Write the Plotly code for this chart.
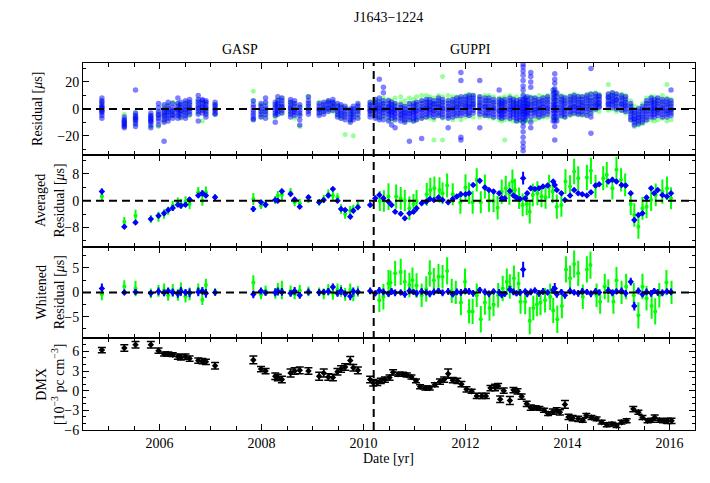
import plotly.graph_objects as go
from plotly.subplots import make_subplots

FONT = "Liberation Serif"
BLUE = "#0000ff"
GREEN = "#00ff00"

# ---------------- data ----------------
# GASP epochs (yr)
gasp_epochs = [2004.87, 2005.31, 2005.53, 2005.83, 2005.98, 2006.09, 2006.17, 2006.26, 2006.36, 2006.42,
               2006.51, 2006.59, 2006.76, 2006.84, 2006.91, 2007.09, 2007.84, 2007.99, 2008.08, 2008.27,
               2008.32, 2008.40, 2008.57, 2008.65, 2008.75, 2008.92, 2009.13, 2009.22, 2009.31, 2009.40,
               2009.49, 2009.56, 2009.64, 2009.74, 2009.80, 2009.89]

# GUPPI epochs (yr)
guppi_epochs = [2010.13, 2010.23, 2010.31, 2010.39, 2010.49, 2010.55, 2010.62, 2010.73, 2010.81, 2010.90,
                2010.98, 2011.04, 2011.14, 2011.23, 2011.30, 2011.38, 2011.47, 2011.55, 2011.66, 2011.75,
                2011.83, 2011.91, 2012.00, 2012.07, 2012.15, 2012.28, 2012.38, 2012.46, 2012.55, 2012.66,
                2012.71, 2012.77, 2012.87, 2012.94, 2013.00, 2013.07, 2013.13, 2013.17, 2013.21, 2013.28,
                2013.36, 2013.44, 2013.52, 2013.61, 2013.72, 2013.75, 2013.79, 2013.88, 2013.95, 2014.05,
                2014.13, 2014.21, 2014.29, 2014.38, 2014.46, 2014.55, 2014.62, 2014.80, 2014.88, 2014.96,
                2015.06, 2015.14, 2015.24, 2015.31, 2015.39, 2015.47, 2015.55, 2015.64, 2015.70, 2015.77,
                2015.86, 2015.95, 2016.03]

# raw residuals [us], one list per epoch
gasp_raw_blue = [
    [8, 6, 5, 3, 2, 1, 0, -1, -2, -3, -5, -7], [-6, -8, -9, -10, -11, -12, -13, -14],
    [14, -3, -5, -6, -7, -8, -9, -11, -13], [-3, -5, -6, -7, -8, -9, -10, -12, -14],
    [4, 1, -2, -4, -5, -7, -9, -12], [3, 0, -2, -3, -5, -6, -8, -10, -24],
    [5, 2, 0, -2, -3, -5, -7, -9], [4, 1, -1, -2, -4, -5, -7], [8, 4, 2, 0, -1, -3, -5, -7],
    [5, 3, 1, -1, -2, -4, -6], [6, 4, 2, 0, -1, -3, -5, -7], [7, 5, 3, 1, 0, -2, -4],
    [10, 7, 5, 3, 1, 0, -2, -4, -9], [7, 6, 4, 2, 1, -1, -3], [6, 5, 3, 1, 0, -2, -4, -6],
    [5, 3, 2, 0, -1, -3, -4], [6, 3, 1, -1, -3, -5, -7, -8], [4, 2, 0, -2, -4, -6],
    [8, 5, 2, 0, -2, -4, -7], [5, 3, 1, -1, -3, -5, -10], [9, 6, 4, 2, 0, -2, -4],
    [8, 6, 4, 2, 1, -1, -3], [7, 5, 3, 1, 0, -2, -4, -6], [6, 4, 2, 0, -2, -3, -5],
    [3, 1, -1, -3, -5, -8, -12], [9, 6, 4, 2, 0, -2, -4], [4, 2, 0, -1, -3, -5],
    [5, 3, 1, 0, -2, -4], [6, 5, 3, 1, 0, -2], [7, 5, 4, 2, 1, -1], [4, 2, 0, -2, -4, -6],
    [3, 1, -1, -3, -5, -7], [2, 0, -2, -4, -6, -8], [0, -2, -4, -6, -8, -10],
    [2, 0, -2, -4, -6, -8], [4, 2, 0, -2, -4, -7],
]
gasp_raw_green = [
    [5, 1, -2], [-4, -8, -12], [-3, -7, -11], [-5, -9, -13], [-2, -6, -13], [2, -4, -9],
    [3, -2, -6], [5, -1, -5], [4, 0, -4], [2, -2, -7], [5, 1, -3], [4, 0, -5],
    [6, 2, -3], [5, -1, -9], [4, 0, -3], [3, 0, -4], [13, 6, -8], [3, -2, -6],
    [4, -1, -5], [2, -4, -6], [7, 3, -2], [8, 2, -3], [5, 1, -3], [4, -1, -7],
    [2, -4, -13], [9, 3, -1], [5, 0, -3], [4, 0, -2], [6, 2, -1], [5, 2, -2],
    [3, -1, -5], [2, -3, -7], [1, -4, -19], [-1, -5, -9], [0, -4, -20], [3, -1, -6],
]
guppi_raw_blue = [
    [5, 3, 2, 0, -1, -2, -4, -6], [7, 5, 3, 1, 0, -1, -3, -5, -7], [22, 8, 5, 3, 1, 0, -2, -4, -6, -8],
    [16, 12, 6, 4, 2, 0, -1, -3, -5, -8], [6, 4, 2, 1, -1, -2, -4, -6, -9],
    [5, 3, 1, 0, -2, -3, -5, -7, -12], [4, 2, 0, -1, -3, -4, -6, -8, -14], [3, 1, -1, -2, -4, -5, -7, -9],
    [2, 0, -2, -3, -5, -6, -8, -10], [4, 1, -1, -3, -4, -6, -8, -24],
    [4, 2, 0, -2, -3, -5, -7, -9], [5, 3, 1, -1, -2, -4, -6, -8], [6, 4, 2, 0, -1, -3, -5, -7, -22],
    [7, 5, 3, 1, 0, -2, -4, -6], [7, 5, 3, 2, 0, -1, -3, -5],
    [6, 4, 3, 1, -1, -2, -4, -6], [8, 6, 4, 2, 1, -1, -3, -5], [7, 5, 3, 1, 0, -2, -4, -6],
    [6, 4, 2, 0, -1, -3, -5, -7, -14], [7, 5, 3, 1, 0, -2, -4, -6],
    [8, 6, 4, 2, 1, -1, -3, -5], [27, 21, 9, 7, 5, 3, 1, -1, -3, -5, -21, -23], [9, 7, 5, 3, 2, 0, -2, -4],
    [10, 8, 6, 4, 2, 1, -1, -3, -5], [10, 8, 6, 4, 3, 1, -1, -3],
    [21, 9, 7, 5, 3, 2, 0, -2, -4, -14], [8, 6, 4, 2, 1, -1, -3, -5], [8, 6, 4, 2, 0, -1, -3, -5],
    [7, 5, 3, 1, 0, -2, -4, -6], [14, 7, 5, 3, 1, -1, -2, -4, -6],
    [6, 4, 2, 0, -1, -3, -5, -7], [7, 5, 3, 1, -1, -2, -4, -6], [8, 6, 4, 2, 0, -1, -3, -5, -7],
    [7, 5, 3, 1, 0, -2, -4, -6], [6, 4, 2, 1, -1, -3, -5, -7, -9],
    [7, 5, 3, 1, 0, -2, -4, -6, -8],
    [33, 31, 28, 25, 21, 17, 14, 10, 7, 4, 2, 0, -2, -4, -7, -10, -13, -17, -21, -25, -28, -31],
    [8, 6, 4, 2, 0, -2, -4, -6, -8], [9, 6, 4, 2, 1, -1, -3, -5],
    [27, 24, 20, 16, 8, 5, 3, 1, -1, -3, -6, -10, -14],
    [8, 6, 4, 2, 0, -1, -3, -5], [7, 5, 3, 1, 0, -2, -4, -6], [8, 6, 4, 2, 1, -1, -3, -5],
    [9, 7, 5, 3, 1, 0, -2, -4], [14, 11, 8, 5, 3, 1, -1, -3, -6, -9],
    [26, 22, 19, 15, 12, 9, 6, 3, 0, -3, -6, -9, -13, -23], [12, 9, 6, 3, 1, -1, -3, -6, -9],
    [9, 7, 5, 3, 1, -1, -3, -5], [8, 6, 4, 2, 0, -2, -4, -6], [9, 7, 5, 3, 1, 0, -2, -4],
    [10, 8, 6, 4, 2, 1, -1, -3], [9, 7, 5, 3, 1, 0, -2, -4], [9, 7, 5, 3, 2, 0, -2, -4],
    [10, 8, 6, 4, 2, 0, -2, -5], [30, 11, 8, 6, 4, 2, 0, -3, -6, -18],
    [11, 9, 7, 5, 3, 2, 0], [10, 9, 7, 5, 4, 2, 1], [11, 9, 8, 6, 4, 3, 1],
    [12, 10, 8, 6, 5, 3, 1], [11, 9, 7, 6, 4, 2, 0],
    [10, 8, 6, 4, 3, 1, -1], [9, 7, 5, 3, 2, 0, -2], [4, 2, 0, -2, -4, -6, -8],
    [-1, -3, -5, -7, -8, -10, -12], [0, -2, -4, -6, -7, -9, -11],
    [2, 0, -2, -4, -6, -8, -10], [6, 4, 2, 0, -2, -4, -6, -8], [8, 6, 4, 2, 0, -2, -4, -6],
    [7, 5, 3, 1, 0, -2, -4, -6], [8, 6, 4, 2, 0, -1, -3, -5],
    [7, 5, 3, 1, 0, -2, -4, -6], [7, 5, 3, 1, -1, -2, -4, -6], [14, 6, 4, 2, 0, -1, -3, -5],
]
guppi_raw_green = [
    [5, 1, -3], [7, 3, -1, -6], [6, 2, -2, -7], [8, 4, 0, -6], [7, 2, -3, -8],
    [6, 3, -2, -9], [8, 4, 0, -7], [9, 5, 1, -6], [6, 2, -3, -9], [8, 4, -1, -8],
    [7, 3, -2, -9], [9, 5, 0, -8], [10, 6, 1, -7], [10, 6, 2, -6], [9, 5, 1, -7],
    [8, 4, 0, -8, -23], [10, 6, 3, -5], [24, 9, 5, 0, -7, -23], [10, 6, 2, -6], [9, 5, 0, -8],
    [9, 5, 1, -6], [8, 4, -1, -8], [10, 6, 2, -6], [11, 7, 3, -5], [10, 6, 2, -6],
    [9, 5, 0, -6], [10, 6, 2, -5], [10, 6, 1, -6], [9, 5, 0, -7], [8, 4, -1, -8],
    [8, 4, -2, -9], [9, 5, 0, -8, -23], [10, 6, 1, -8], [8, 4, -1, -9], [9, 4, -2, -9],
    [7, 3, -3, -9], [11, 6, -4, -10], [8, 4, -2, -9], [7, 3, -3, -9], [9, 5, -1, -8],
    [8, 4, -2, -8], [10, 6, 0, -7], [9, 5, -1, -6], [10, 6, 0, -6], [12, 7, 1, -6],
    [14, 8, 2, -8], [11, 6, 0, -7], [10, 6, 0, -6], [9, 5, -1, -6], [10, 6, 1, -5],
    [11, 7, 2, -4], [10, 6, 1, -4], [9, 5, 0, -5], [11, 7, 2, -4], [11, 7, 3, -2],
    [12, 8, 4, -1], [11, 7, 3, -2], [18, 11, 8, 4, -1], [12, 9, 5, 0], [11, 7, 3, -2],
    [11, 8, 4, -1], [10, 6, 2, -3], [6, 2, -2, -8], [2, -3, -8, -13], [1, -4, -9, -12],
    [4, -1, -6, -11], [8, 4, -2, -9], [9, 5, -1, -8], [9, 5, 0, -9], [8, 4, -2, -8],
    [10, 6, 0, -7], [18, 8, 3, -3, -9], [7, 3, -2, -8],
]

# averaged residuals [us]
gasp_avg_blue = [2.7, -7.8, -6.5, -5.5, -4.5, -3.8, -2.8, -2.2, -1.2, -1.5,
                 -1.2, 0.3, 1.5, 2.2, 1.5, 1.0, -2.5, -0.5, -1.2, 0.2,
                 0.0, 2.8, 2.0, 0.3, -1.8, 1.0, -0.5, 0.2, 1.5, 3.5,
                 0.0, -2.5, -2.8, -4.8, -3.0, -2.0]
gasp_avg_blue_err = [0.9, 0.7, 0.6, 0.6, 0.6, 0.7, 0.6, 0.8, 0.6, 0.7,
                     0.6, 0.8, 0.7, 0.9, 0.7, 0.6, 0.9, 0.6, 0.7, 0.6,
                     0.7, 0.7, 0.6, 0.6, 0.7, 0.6, 0.5, 0.6, 0.6, 0.6,
                     0.6, 0.7, 0.6, 0.7, 0.6, 0.6]
gasp_avg_green = [1.3, -6.3, -4.5, -5.5, -4.8, -4.0, -3.0, -1.5, -0.5, -1.0,
                  -0.3, -1.0, 2.5, 0.0, 2.5, 1.0, 0.5, -1.5, -1.0, 0.2,
                  1.5, 1.8, 2.5, -0.5, -0.8, 0.5, -0.5, 0.5, 2.0, 1.5,
                  1.0, -2.5, -4.0, -3.0, -2.5, -1.5]
gasp_avg_green_err = [1.2, 1.4, 1.8, 1.2, 1.5, 1.4, 1.2, 1.5, 1.4, 1.5,
                      1.6, 1.6, 1.6, 1.5, 1.7, 1.0, 1.8, 1.0, 1.2, 1.2,
                      1.4, 1.8, 1.3, 1.2, 1.3, 1.2, 1.0, 1.2, 1.3, 1.3,
                      1.2, 1.4, 1.4, 1.4, 1.3, 1.2]
guppi_avg_blue = [-1.3, 0.7, 1.7, 0.7, -0.3, -1.3, -3.3, -3.9, -5.3, -3.8,
                  -3.3, -2.3, -0.8, -0.3, 0.5, 0.2, 0.9, 0.2, -0.5, 0.5,
                  1.2, 1.9, 1.9, 2.2, 4.7, 5.9, 3.9, 3.2, 2.7, 2.2,
                  0.7, 0.7, 2.9, 1.5, 0.9, 0.5, 6.7, 0.7, 2.2, 3.7,
                  3.5, 3.7, 4.2, 4.5, 5.7, 4.7, 3.2, 2.2, 0.2, 1.5,
                  3.2, 2.2, 1.9, 1.5, 2.5, 4.5, 4.9, 5.7, 6.2, 5.7,
                  4.7, 4.5, 2.2, -5.8, -4.3, -3.8, 0.9, 3.7, 2.2, 3.2,
                  1.7, 1.2, 2.2]
guppi_avg_blue_err = [0.7, 0.6, 0.6, 0.6, 0.7, 0.6, 0.7, 0.6, 0.6, 0.6,
                      0.6, 0.7, 0.6, 0.6, 0.6, 0.6, 0.6, 0.6, 0.7, 0.6,
                      0.6, 0.6, 0.6, 0.6, 0.6, 0.7, 0.6, 0.6, 0.6, 0.7,
                      0.6, 0.6, 0.6, 0.6, 0.6, 0.6, 1.9, 0.6, 0.6, 0.7,
                      0.6, 0.6, 0.6, 0.6, 0.7, 0.9, 0.6, 0.6, 0.6, 0.6,
                      0.6, 0.6, 0.6, 0.6, 0.6, 0.7, 0.6, 0.6, 0.6, 0.6,
                      0.6, 0.6, 0.6, 0.8, 0.7, 0.6, 0.6, 0.6, 0.6, 0.6,
                      0.6, 0.6, 0.6]
guppi_avg_green_years = [2010.32, 2010.40, 2010.49, 2010.64, 2010.73, 2010.81, 2010.90, 2010.98, 2011.04, 2011.24,
                         2011.31, 2011.39, 2011.49, 2011.55, 2011.64, 2011.75, 2011.90, 2012.00, 2012.07, 2012.14,
                         2012.22, 2012.30, 2012.38, 2012.46, 2012.55, 2012.63, 2012.71, 2012.79, 2012.86, 2012.92,
                         2012.97, 2013.05, 2013.12, 2013.20, 2013.26, 2013.32, 2013.41, 2013.49, 2013.57, 2013.64,
                         2013.71, 2013.79, 2013.88, 2013.96, 2014.05, 2014.13, 2014.21, 2014.38, 2014.46, 2014.55,
                         2014.70, 2014.77, 2014.88, 2014.96, 2015.05, 2015.13, 2015.24, 2015.31, 2015.39, 2015.47,
                         2015.55, 2015.64, 2015.73, 2015.86, 2015.95, 2016.03]
guppi_avg_green = [-0.1, -0.1, 1.2, 1.2, 0.7, 0.0, -2.3, -1.0, -0.1, 1.9,
                   3.2, 3.7, 3.2, 2.2, 4.5, 1.9, -0.5, 3.9, 2.2, -0.5,
                   6.2, -0.5, 4.2, -0.1, -0.1, -2.1, 2.7, 3.7, 2.2, 5.7,
                   3.2, 0.7, -1.3, -1.0, -3.3, 1.7, 2.2, 1.2, 0.9, 4.2,
                   2.7, -1.8, -1.3, 5.7, 4.2, 8.7, 6.7, 6.9, 8.9, 4.2,
                   6.7, 7.7, 3.7, 9.2, 6.2, 4.7, -1.0, -4.3, -7.8, -2.3,
                   -1.8, 0.2, 1.7, 2.7, 3.7, 0.7]
guppi_avg_green_err = [3.0, 3.2, 4.0, 3.6, 3.4, 3.2, 3.5, 3.0, 3.3, 3.4,
                       3.6, 3.5, 3.8, 3.2, 3.6, 3.3, 3.4, 4.0, 3.2, 3.4,
                       3.5, 3.3, 3.6, 3.2, 3.4, 3.5, 3.6, 3.7, 3.4, 3.6,
                       3.3, 3.2, 3.4, 3.3, 3.5, 3.4, 3.6, 3.2, 3.3, 3.5,
                       3.4, 3.6, 3.5, 3.7, 3.4, 3.8, 3.6, 3.8, 3.9, 3.5,
                       3.6, 3.8, 3.4, 3.9, 3.5, 3.4, 3.3, 3.5, 3.6, 3.4,
                       3.5, 3.3, 3.4, 3.6, 3.5, 3.3]

# whitened residuals [us]
gasp_wh_blue = [0.8, 0.0, 0.1, -0.2, 0.2, -0.1, 0.3, 0.0, -0.3, 0.2,
                0.0, -0.1, 0.1, 0.3, -0.2, 0.0, -0.4, 0.3, -0.1, 0.0,
                0.2, 0.1, -0.2, 0.3, -0.6, 0.1, 0.0, 0.1, 0.2, 1.1,
                -0.2, 0.3, -0.3, -0.8, 0.2, 0.1]
gasp_wh_blue_err = [1.0, 0.6, 0.6, 0.7, 0.8, 0.7, 0.7, 0.8, 0.8, 0.9,
                    0.7, 0.9, 0.9, 0.8, 0.9, 0.7, 0.8, 0.7, 0.6, 0.8,
                    0.8, 0.8, 0.7, 0.8, 0.7, 0.7, 0.7, 0.6, 0.7, 0.7,
                    0.7, 0.8, 0.7, 0.8, 0.8, 0.7]
gasp_wh_green = [-0.4, 1.2, 0.8, -0.2, 0.3, 0.5, -0.6, 0.4, -0.5, 0.6,
                 -0.8, -0.3, 0.6, -1.5, 1.5, 0.1, 2.0, -0.5, 0.4, -0.2,
                 0.6, 0.5, 0.3, -0.4, 0.4, 0.2, 0.1, -0.3, 0.5, -0.2,
                 0.6, 0.3, -0.4, 0.5, -0.6, 0.2]
gasp_wh_green_err = [1.2, 1.3, 1.6, 1.0, 1.2, 1.3, 1.1, 1.3, 1.2, 1.4,
                     1.3, 1.3, 1.2, 1.1, 1.3, 0.8, 1.5, 0.9, 1.0, 1.1,
                     1.3, 1.9, 1.1, 1.0, 1.1, 1.0, 0.9, 1.1, 1.2, 1.3,
                     1.2, 1.2, 1.3, 1.3, 1.2, 1.1]
guppi_wh_blue = [0.3, -0.2, 0.4, 0.1, -0.3, 0.2, -0.1, 0.0, -0.4, 0.3,
                 0.1, -0.2, 0.2, 0.0, -0.3, 0.1, 0.3, -0.1, 0.2, -0.4,
                 0.1, 0.0, 0.3, 0.2, -0.2, 0.5, 0.1, -0.3, 0.2, 0.0,
                 -0.5, -0.3, 0.6, 0.1, -0.2, 0.0, 4.7, 0.2, -0.3, 0.1,
                 0.4, -0.2, 0.2, 0.0, 0.5, 0.8, -0.4, 0.1, -0.6, 0.3,
                 0.0, -0.2, 0.2, 0.1, -0.3, 0.2, 0.0, 0.4, -0.1, 0.2,
                 0.3, -0.2, 2.2, -2.8, 0.3, -0.4, 0.1, -0.2, 0.3, 0.0,
                 -0.1, 0.2, 0.1]
guppi_wh_blue_err = [0.7, 0.6, 0.7, 0.7, 0.6, 0.7, 0.7, 0.6, 0.7, 0.7,
                     0.6, 0.7, 0.7, 0.6, 0.7, 0.7, 0.6, 0.7, 0.7, 0.6,
                     0.7, 0.7, 0.6, 0.7, 0.7, 0.6, 0.7, 0.7, 0.6, 0.7,
                     0.7, 0.6, 0.7, 0.7, 0.6, 0.7, 1.6, 0.6, 0.7, 0.7,
                     0.6, 0.7, 0.7, 0.6, 0.8, 1.1, 0.7, 0.6, 0.7, 0.7,
                     0.6, 0.7, 0.7, 0.6, 0.7, 0.7, 0.6, 0.7, 0.7, 0.6,
                     0.7, 0.7, 0.8, 0.9, 0.7, 0.6, 0.7, 0.7, 0.6, 0.7,
                     0.7, 0.6, 0.7]
guppi_wh_green_years = [2010.31, 2010.39, 2010.49, 2010.53, 2010.62, 2010.73, 2010.81, 2010.90, 2010.96, 2011.04,
                        2011.14, 2011.23, 2011.30, 2011.38, 2011.47, 2011.55, 2011.64, 2011.73, 2011.81, 2011.91,
                        2011.99, 2012.07, 2012.14, 2012.22, 2012.30, 2012.38, 2012.47, 2012.55, 2012.64, 2012.73,
                        2012.81, 2012.87, 2012.95, 2013.04, 2013.08, 2013.17, 2013.26, 2013.33, 2013.40, 2013.47,
                        2013.56, 2013.66, 2013.72, 2013.80, 2013.89, 2013.97, 2014.05, 2014.13, 2014.21, 2014.30,
                        2014.38, 2014.45, 2014.57, 2014.64, 2014.73, 2014.80, 2014.90, 2014.96, 2015.06, 2015.15,
                        2015.30, 2015.39, 2015.47, 2015.55, 2015.65, 2015.72, 2015.80, 2015.94, 2016.04]
guppi_wh_green = [-1.6, -0.9, 1.8, 2.0, 3.9, 4.2, 2.2, 1.5, 2.5, 1.4,
                  -0.6, 0.7, 3.9, 2.5, 3.2, 3.2, 4.4, 0.3, 0.0, -2.1,
                  2.2, -3.9, -3.9, -0.6, -5.5, -2.1, -3.2, -2.5, -0.6, 0.8,
                  2.2, 1.2, 2.9, 1.8, -1.9, -1.9, -5.8, -3.2, -2.5, -2.1,
                  -1.6, -0.9, -3.7, -5.5, -2.8, 4.7, 2.9, 5.8, 3.9, -0.9,
                  4.7, 5.6, -0.6, -1.9, 1.2, 0.3, -1.9, 2.5, 0.0, 1.2,
                  -0.6, -4.7, 1.2, -1.2, -2.8, -3.9, -0.6, 2.0, 0.0]
guppi_wh_green_err = [2.4, 2.6, 2.8, 2.5, 2.6, 2.7, 2.4, 2.5, 2.6, 2.5,
                      2.4, 2.6, 2.7, 2.5, 2.6, 2.4, 2.8, 2.5, 2.4, 2.6,
                      2.7, 2.5, 2.6, 2.4, 2.7, 2.5, 2.6, 2.4, 2.5, 2.6,
                      2.7, 2.5, 2.6, 2.4, 2.5, 2.6, 2.8, 2.5, 2.4, 2.6,
                      2.5, 2.7, 2.6, 2.8, 2.5, 2.7, 2.6, 2.8, 2.6, 2.5,
                      2.7, 2.8, 2.4, 2.5, 2.6, 2.4, 2.5, 2.7, 2.4, 2.6,
                      2.5, 2.7, 2.6, 2.5, 2.6, 2.7, 2.5, 2.6, 2.4]

# DMX [1e-3 pc cm^-3]
dmx_gasp = [6.2, 6.5, 7.0, 7.0, 6.1, 5.6, 5.6, 5.5, 5.2, 5.1,
            5.2, 4.9, 4.6, 4.5, 4.4, 3.8, 4.7, 3.3, 3.0, 2.2,
            2.0, 1.7, 2.7, 3.0, 3.1, 3.0, 2.2, 2.7, 2.1, 2.0,
            2.9, 3.3, 3.6, 4.6, 3.5, 3.1]
dmx_gasp_err = [0.4, 0.5, 0.5, 0.5, 0.4, 0.3, 0.3, 0.3, 0.4, 0.4,
                0.4, 0.4, 0.4, 0.4, 0.4, 0.5, 0.6, 0.4, 0.4, 0.5,
                0.5, 0.5, 0.6, 0.5, 0.5, 0.5, 0.6, 0.6, 0.5, 0.5,
                0.5, 0.5, 0.5, 0.6, 0.5, 0.5]
dmx_guppi_years = [2010.13, 2010.19, 2010.27, 2010.34, 2010.42, 2010.51, 2010.58, 2010.68, 2010.77, 2010.85,
                   2010.94, 2011.03, 2011.11, 2011.21, 2011.30, 2011.40, 2011.50, 2011.58, 2011.66, 2011.75,
                   2011.84, 2011.92, 2012.02, 2012.12, 2012.22, 2012.32, 2012.40, 2012.49, 2012.58, 2012.64,
                   2012.68, 2012.75, 2012.87, 2012.94, 2013.02, 2013.10, 2013.20, 2013.28, 2013.36, 2013.45,
                   2013.54, 2013.62, 2013.71, 2013.79, 2013.85, 2013.95, 2014.02, 2014.10, 2014.21, 2014.30,
                   2014.37, 2014.47, 2014.57, 2014.67, 2014.77, 2014.87, 2014.96, 2015.06, 2015.16, 2015.29,
                   2015.39, 2015.47, 2015.57, 2015.65, 2015.71, 2015.80, 2015.88, 2015.96, 2016.04]
dmx_guppi = [1.7, 1.2, 1.2, 1.5, 1.7, 2.0, 2.8, 2.5, 2.5, 2.4,
             2.1, 1.5, 0.6, 0.4, 0.4, 0.9, 1.4, 1.7, 2.6, 1.6,
             1.5, 1.0, 0.2, -0.1, -0.8, -0.8, -0.8, 0.4, 0.5, 0.7,
             -1.3, 0.0, -1.5, 0.1, -0.1, -0.9, -2.0, -2.6, -2.6, -2.7,
             -3.0, -3.5, -3.2, -3.0, -3.3, -2.1, -4.0, -4.2, -4.3, -4.5,
             -3.8, -4.1, -4.3, -4.8, -5.2, -5.1, -5.3, -4.8, -4.6, -2.8,
             -3.3, -4.1, -4.6, -4.5, -4.1, -4.5, -4.6, -4.6, -4.6]
dmx_guppi_err = [0.5, 0.5, 0.4, 0.4, 0.4, 0.4, 0.4, 0.3, 0.3, 0.3,
                 0.3, 0.3, 0.3, 0.3, 0.3, 0.3, 0.4, 0.4, 0.7, 0.4,
                 0.4, 0.4, 0.4, 0.3, 0.4, 0.4, 0.4, 0.4, 0.5, 0.4,
                 0.5, 0.4, 0.6, 0.4, 0.4, 0.4, 0.4, 0.4, 0.3, 0.3,
                 0.3, 0.3, 0.4, 0.4, 0.4, 0.6, 0.4, 0.4, 0.4, 0.3,
                 0.3, 0.3, 0.3, 0.3, 0.3, 0.3, 0.3, 0.3, 0.3, 0.4,
                 0.3, 0.3, 0.3, 0.3, 0.4, 0.3, 0.3, 0.4, 0.4]

BACKEND_SWITCH = 2010.2


def flatten(epochs, groups):
    assert len(epochs) == len(groups), (len(epochs), len(groups))
    xs, ys = [], []
    for t, vals in zip(epochs, groups):
        xs += [t] * len(vals)
        ys += vals
    return xs, ys


fig = make_subplots(rows=4, cols=1, shared_xaxes=True, vertical_spacing=0)

# --- panel 1: raw residuals
gx1, gy1 = flatten(gasp_epochs, gasp_raw_green)
gx2, gy2 = flatten(guppi_epochs, guppi_raw_green)
bx1, by1 = flatten(gasp_epochs, gasp_raw_blue)
bx2, by2 = flatten(guppi_epochs, guppi_raw_blue)
fig.add_trace(go.Scatter(x=gx1 + gx2, y=gy1 + gy2, mode="markers",
                         marker=dict(size=5, color="rgba(0,255,0,0.4)", line_width=0)), row=1, col=1)
fig.add_trace(go.Scatter(x=bx1 + bx2, y=by1 + by2, mode="markers",
                         marker=dict(size=5.5, color="rgba(0,0,255,0.5)", line_width=0)), row=1, col=1)


def err_trace(x, y, err, color, symbol, size):
    return go.Scatter(
        x=x, y=y, mode="markers",
        marker=dict(size=size, color=color, symbol=symbol, line_width=0),
        error_y=dict(type="data", array=err, color=color, thickness=2, width=0),
    )


# --- panel 2: averaged residuals
fig.add_trace(err_trace(gasp_epochs + guppi_avg_green_years, gasp_avg_green + guppi_avg_green,
                        gasp_avg_green_err + guppi_avg_green_err, GREEN, "circle", 4), row=2, col=1)
fig.add_trace(err_trace(gasp_epochs + guppi_epochs, gasp_avg_blue + guppi_avg_blue,
                        gasp_avg_blue_err + guppi_avg_blue_err, BLUE, "diamond", 5), row=2, col=1)

# --- panel 3: whitened residuals
fig.add_trace(err_trace(gasp_epochs + guppi_wh_green_years, gasp_wh_green + guppi_wh_green,
                        gasp_wh_green_err + guppi_wh_green_err, GREEN, "circle", 4), row=3, col=1)
fig.add_trace(err_trace(gasp_epochs + guppi_epochs, gasp_wh_blue + guppi_wh_blue,
                        gasp_wh_blue_err + guppi_wh_blue_err, BLUE, "diamond", 5), row=3, col=1)

# --- panel 4: DMX
fig.add_trace(go.Scatter(
    x=gasp_epochs + dmx_guppi_years, y=dmx_gasp + dmx_guppi, mode="markers",
    marker=dict(size=5, color="black", symbol="diamond", line_width=0),
    error_y=dict(type="data", array=dmx_gasp_err + dmx_guppi_err, color="black", thickness=1.5, width=4),
), row=4, col=1)

axis_common = dict(
    showline=True, linecolor="black", linewidth=1, mirror="ticks",
    ticks="inside", tickcolor="black", tickwidth=1, ticklen=6,
    showgrid=False, zeroline=False,
    tickfont=dict(family=FONT, size=14, color="black"),
)
fig.update_xaxes(range=[2004.5, 2016.5], tick0=2004, dtick=2,
                 minor=dict(dtick=0.5, ticks="inside", ticklen=4, tickcolor="black"),
                 **axis_common)

y_specs = [([-34, 34], 20, 10), ([-13.7, 13.7], 8, 4), ([-9.4, 9.4], 5, 2.5), ([-6, 8], 3, 1)]
for r, (rng, dt, mdt) in enumerate(y_specs, start=1):
    fig.update_yaxes(range=rng, tick0=0, dtick=dt,
                     minor=dict(dtick=mdt, ticks="inside", ticklen=3, tickcolor="black"),
                     row=r, col=1, **axis_common)

dash_line = dict(color="black", width=2, dash="8px,5px")
for r in (1, 2, 3):
    fig.add_hline(y=0, row=r, col=1, line=dash_line, layer="above")
fig.add_shape(type="line", x0=BACKEND_SWITCH, x1=BACKEND_SWITCH, xref="x", yref="paper",
              y0=0, y1=1, line=dash_line, layer="above")

txt = dict(family=FONT, size=14, color="black")
annotations = [
    dict(text="J1643\u22121224", x=0.499, y=1.124, xref="paper", yref="paper"),
    dict(text="GASP", x=2007.58, y=1.037, xref="x", yref="paper"),
    dict(text="GUPPI", x=2012.09, y=1.037, xref="x", yref="paper"),
    dict(text="Date [yr]", x=0.499, y=-0.079, xref="paper", yref="paper"),
    dict(text="Residual [<i>\u03bc</i>s]", x=-0.0735, y=0.875, xref="paper", yref="paper", textangle=-90),
    dict(text="Averaged<br>Residual [<i>\u03bc</i>s]", x=-0.054, y=0.625, xref="paper", yref="paper", textangle=-90),
    dict(text="Whitened<br>Residual [<i>\u03bc</i>s]", x=-0.054, y=0.375, xref="paper", yref="paper", textangle=-90),
    dict(text="DMX<br>[10<sup>\u22123</sup> pc cm<sup>\u22123</sup>]", x=-0.054, y=0.125, xref="paper", yref="paper", textangle=-90),
]
for a in annotations:
    fig.add_annotation(showarrow=False, xanchor="center", yanchor="middle", font=txt, **a)

# the page body has an 8px margin, so the figure is 8px smaller than the window
fig.update_layout(
    width=702, height=475,
    margin=dict(l=75, r=15, t=55, b=53, autoexpand=False),
    showlegend=False,
    plot_bgcolor="white",
    paper_bgcolor="white",
    font=txt,
)

fig.write_html("out.html")
